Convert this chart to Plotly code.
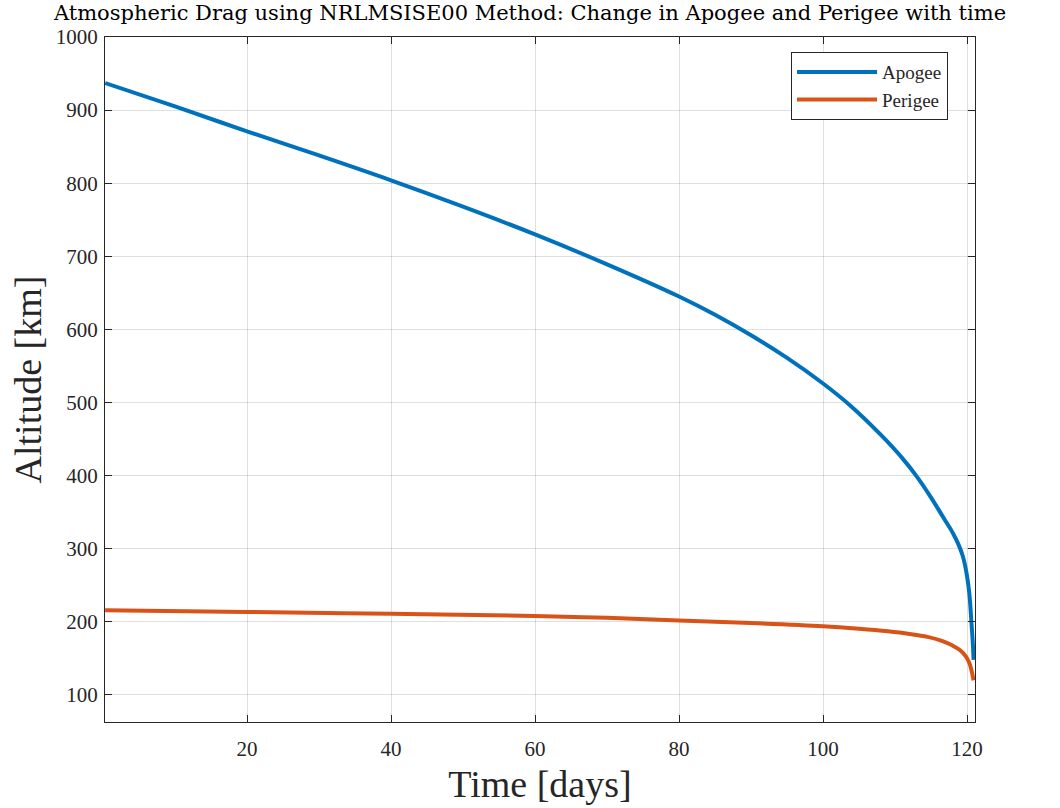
import plotly.graph_objects as go

# Data
apogee_t = [0.3, 10, 20, 30, 40, 50, 60, 70, 80, 85, 90, 95, 100, 104, 108, 111, 113,
            115, 116.5, 117, 118, 118.8, 119.4, 119.9, 120.3, 120.6, 120.8, 120.9]
apogee_km = [937, 905, 871, 838, 804, 768, 730, 689, 645, 620, 592, 561, 526, 494, 456,
             424, 399, 370, 346, 338, 322, 306, 290, 268, 240, 200, 170, 148]

perigee_t = [0.3, 20, 40, 60, 70, 80, 90, 100, 105, 109, 112, 114.5, 116.5, 118, 119,
             119.8, 120.3, 120.6, 120.9]
perigee_km = [216, 213.5, 211, 208, 205.5, 202, 198.5, 194, 190.5, 187, 183.5, 179.5,
              174, 167.5, 161.5, 153, 144, 134, 120]

x_ticks = [20, 40, 60, 80, 100, 120]
y_ticks = [100, 200, 300, 400, 500, 600, 700, 800, 900, 1000]

FONT = "Liberation Serif"
AX = "#262626"
GRID = "rgba(38,38,38,0.15)"

fig = go.Figure()
fig.add_trace(go.Scatter(x=apogee_t, y=apogee_km, mode="lines", name="Apogee",
                         line=dict(color="#0072BD", width=4, shape="spline", smoothing=1.0)))
fig.add_trace(go.Scatter(x=perigee_t, y=perigee_km, mode="lines", name="Perigee",
                         line=dict(color="#D95319", width=4, shape="spline", smoothing=1.0)))

axis_common = dict(
    showline=True, linecolor=AX, linewidth=1.3, mirror="allticks",
    ticks="inside", ticklen=7, tickwidth=1.3, tickcolor=AX,
    showgrid=True, gridcolor=GRID, gridwidth=1, zeroline=False,
    automargin=False,
    tickfont=dict(family=FONT, size=21, color=AX),
)

fig.update_layout(
    width=1060, height=808,
    margin=dict(l=105, r=85, t=37, b=86, autoexpand=False),
    paper_bgcolor="white", plot_bgcolor="white",
    title=dict(text="Atmospheric Drag using NRLMSISE00 Method: Change in Apogee and Perigee with time",
               font=dict(family="DejaVu Serif", size=21, color="black"),
               x=0.5, xref="container", xanchor="center",
               y=1 - 13 / 808, yref="container", yanchor="middle"),
    xaxis=dict(range=[0.28, 121.1], tickvals=x_ticks, ticklabelstandoff=8,
               title=dict(text="Time [days]", font=dict(family=FONT, size=38, color=AX), standoff=10),
               **axis_common),
    yaxis=dict(range=[63, 1000], tickvals=y_ticks, ticklabelstandoff=2,
               title=dict(text="Altitude [km]", font=dict(family=FONT, size=38, color=AX), standoff=2),
               **axis_common),
    legend=dict(x=0.969, y=0.978, xanchor="right", yanchor="top",
                bgcolor="white", bordercolor=AX, borderwidth=1, itemwidth=80,
                tracegroupgap=0,
                font=dict(family=FONT, size=19, color=AX)),
    showlegend=True,
)

fig.write_html("out.html")
